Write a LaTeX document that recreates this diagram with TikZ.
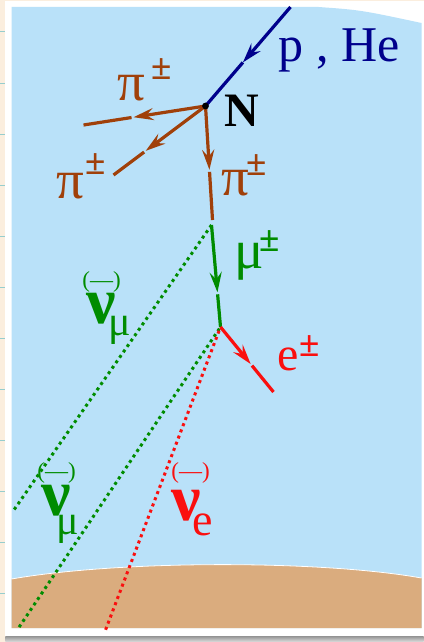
\documentclass[tikz,border=0pt]{standalone}
\usepackage{fontspec}
\setmainfont{Liberation Serif}
\usetikzlibrary{arrows.meta, calc}

\definecolor{paper}{RGB}{251,238,222}
\definecolor{rule}{RGB}{150,205,205}
\definecolor{sky}{RGB}{185,225,249}
\definecolor{ground}{RGB}{218,172,126}
\definecolor{beamcol}{RGB}{0,0,140}
\definecolor{pioncol}{RGB}{160,64,10}
\definecolor{muoncol}{RGB}{0,140,0}
\definecolor{eleccol}{RGB}{250,15,15}

% raised charge sign
\newcommand{\chg}[1]{\raisebox{#1}{\fontsize{37}{37}\selectfont\bfseries ±}}

\begin{document}
\begin{tikzpicture}[
x=1pt, y=-1pt,
track/.style={line width=3.2pt},
fly/.style={
track,
-{Stealth[length=20pt, width=12pt, inset=7pt]}
},
nutrack/.style={line width=3pt, dash pattern=on 3pt off 3.6pt},
lbl/.style={inner sep=0pt, anchor=base west},
big/.style={font=\fontsize{48}{48}\selectfont},
greek/.style={font=\fontsize{55}{55}\selectfont},
nufont/.style={font=\fontsize{66}{66}\selectfont\bfseries, text height=30pt},
osc/.style={inner sep=0pt, anchor=base, text depth=0pt, font=\fontsize{23}{23}\selectfont}
]

% paper, frame and sky
\fill[paper] (0,0) rectangle (423,642);
\foreach \y in {32,83,...,600}
  \draw[rule, line width=1pt] (0,\y) -- (5,\y);
\shade[top color=gray!85, bottom color=gray!25] (5,636) rectangle (423,642);
\fill[white] (5,1) rectangle (423,636);
\fill[sky] (11,7) -- (318,7) .. controls (360,10) .. (421,23) -- (421,628) -- (11,628) -- cycle;
\fill[ground] (11,579) .. controls (120,560) and (320,560) .. (421,578) -- (421,628) -- (11,628) -- cycle;
\draw[white, line width=0.8pt] (11,579) .. controls (120,560) and (320,560) .. (421,578);

% vertices and end points
\coordinate (src) at (290,7);
\coordinate (N) at (205,106);
\coordinate (pi1end) at (83,125);
\coordinate (pi2end) at (113,175);
\coordinate (pi3end) at (212,220);
\coordinate (mu0) at (211,225);
\coordinate (muend) at (220,327);
\coordinate (eend) at (273,392);
\coordinate (nu1end) at (12,512);
\coordinate (nu2end) at (18,628);
\coordinate (nu3end) at (105,630);

\coordinate (ptip) at ($(src)!0.56!(N)$);
\coordinate (pi1tip) at ($(N)!0.59!(pi1end)$);
\coordinate (pi2tip) at ($(N)!0.65!(pi2end)$);
\coordinate (pi3tip) at ($(N)!0.56!(pi3end)$);
\coordinate (mutip) at ($(mu0)!0.66!(muend)$);
\coordinate (etip) at ($(muend)!0.57!(eend)$);

% neutrinos
\draw[nutrack, muoncol] (mu0) -- (nu1end);
\draw[nutrack, muoncol, shorten <=2pt] (muend) -- (nu2end);
\draw[nutrack, eleccol, shorten <=4pt] (muend) -- (nu3end);

% primary
\draw[fly, beamcol] (src) -- (ptip);
\draw[track, beamcol] (ptip) -- (N);

% pions
\draw[fly, pioncol] (N) -- (pi1tip);
\draw[track, pioncol, shorten <=2pt] (pi1tip) -- (pi1end);
\draw[fly, pioncol] (N) -- (pi2tip);
\draw[track, pioncol, shorten <=2pt] (pi2tip) -- (pi2end);
\draw[fly, pioncol] (N) -- (pi3tip);
\draw[track, pioncol, shorten <=2pt] (pi3tip) -- (pi3end);

% muon and electron
\draw[fly, muoncol] (mu0) -- (mutip);
\draw[track, muoncol, shorten <=2pt] (mutip) -- (muend);
\draw[fly, eleccol] (muend) -- (etip);
\draw[track, eleccol, shorten <=2pt] (etip) -- (eend);

\fill (N) circle (3.4pt);

% labels
\node[lbl, beamcol, font=\fontsize{50}{50}\selectfont] (beam) at (278,62) {p , He};
\node[lbl, font=\fontsize{48}{48}\selectfont\bfseries] (nucl) at (224,126) {N};
\node[lbl, pioncol, greek] (pi1lbl) at (117,100) {π\kern6pt\chg{21pt}};
\node[lbl, pioncol, greek] (pi2lbl) at (56,198) {π\kern1pt\chg{24pt}};
\node[lbl, pioncol, greek] (pi3lbl) at (221,195) {π\kern-3pt\chg{20pt}};
\node[lbl, muoncol, greek] (mulbl) at (234,268) {μ\kern-5pt\chg{17pt}};
\node[lbl, eleccol, big] (elbl) at (277,370) {e\kern0pt\chg{14pt}};

\node[lbl, muoncol, nufont] (nu1lbl) at (86,323) {ν\kern-8pt\lower12pt\hbox{\mdseries\fontsize{42}{42}\selectfont μ}};
\node[osc, muoncol] (osc1) at (101,287) {(—)};
\node[lbl, muoncol, nufont] (nu2lbl) at (41,515) {ν\kern-15pt\lower19pt\hbox{\mdseries\fontsize{42}{42}\selectfont μ}};
\node[osc, muoncol] (osc2) at (56,478) {(—)};
\node[lbl, eleccol, nufont] (nu3lbl) at (171,520) {ν\kern-9pt\lower15pt\hbox{\mdseries\fontsize{46}{46}\selectfont e}};
\node[osc, eleccol] (osc3) at (190,478) {(—)};

\end{tikzpicture}
\end{document}
